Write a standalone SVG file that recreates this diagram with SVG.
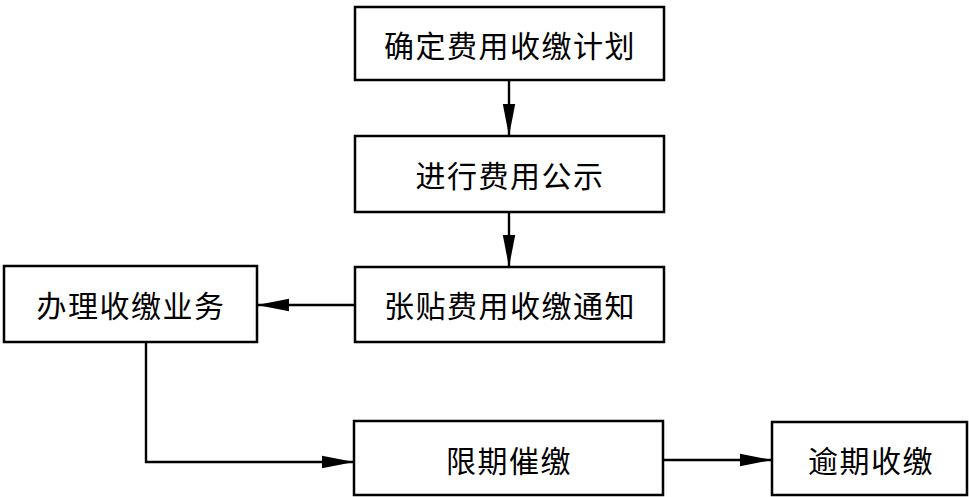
<svg xmlns="http://www.w3.org/2000/svg" width="969" height="497" viewBox="0 0 969 497">
<style>
.box{fill:#fff;stroke:#000;stroke-width:2.5}
.lbl{font-family:"Noto Sans CJK SC","Noto Sans",sans-serif;font-size:30px;letter-spacing:1.5px;fill:#000;text-anchor:middle;dominant-baseline:central}
.conn{fill:none;stroke:#000;stroke-width:2.4}
</style>
<defs>
<marker id="ah" markerWidth="32" markerHeight="14" refX="32" refY="7" orient="auto" markerUnits="userSpaceOnUse">
<path d="M0,0.8 L32,7 L0,13.2 Z" fill="#000"/>
</marker>
</defs>
<rect width="969" height="497" fill="#fff"/>
<g id="n1"><rect class="box" x="355" y="7" width="309" height="73"/><text class="lbl" x="510" y="44">确定费用收缴计划</text></g>
<g id="n2"><rect class="box" x="355" y="136" width="309" height="76"/><text class="lbl" x="510" y="174">进行费用公示</text></g>
<g id="n3"><rect class="box" x="355" y="267" width="309" height="75"/><text class="lbl" x="510" y="304">张贴费用收缴通知</text></g>
<g id="n4"><rect class="box" x="4" y="266" width="253" height="76"/><text class="lbl" x="131" y="304">办理收缴业务</text></g>
<g id="n5"><rect class="box" x="354" y="421" width="309" height="74"/><text class="lbl" x="509" y="459">限期催缴</text></g>
<g id="n6"><rect class="box" x="772" y="422" width="195" height="73"/><text class="lbl" x="871" y="459">逾期收缴</text></g>
<g id="connectors">
<line class="conn" x1="509" y1="80" x2="509" y2="136" marker-end="url(#ah)"/>
<line class="conn" x1="509" y1="212" x2="509" y2="267" marker-end="url(#ah)"/>
<line class="conn" x1="355" y1="305" x2="257" y2="305" marker-end="url(#ah)"/>
<polyline class="conn" points="146,342 146,462 354,462" marker-end="url(#ah)"/>
<line class="conn" x1="663" y1="460" x2="772" y2="460" marker-end="url(#ah)"/>
</g>
</svg>
